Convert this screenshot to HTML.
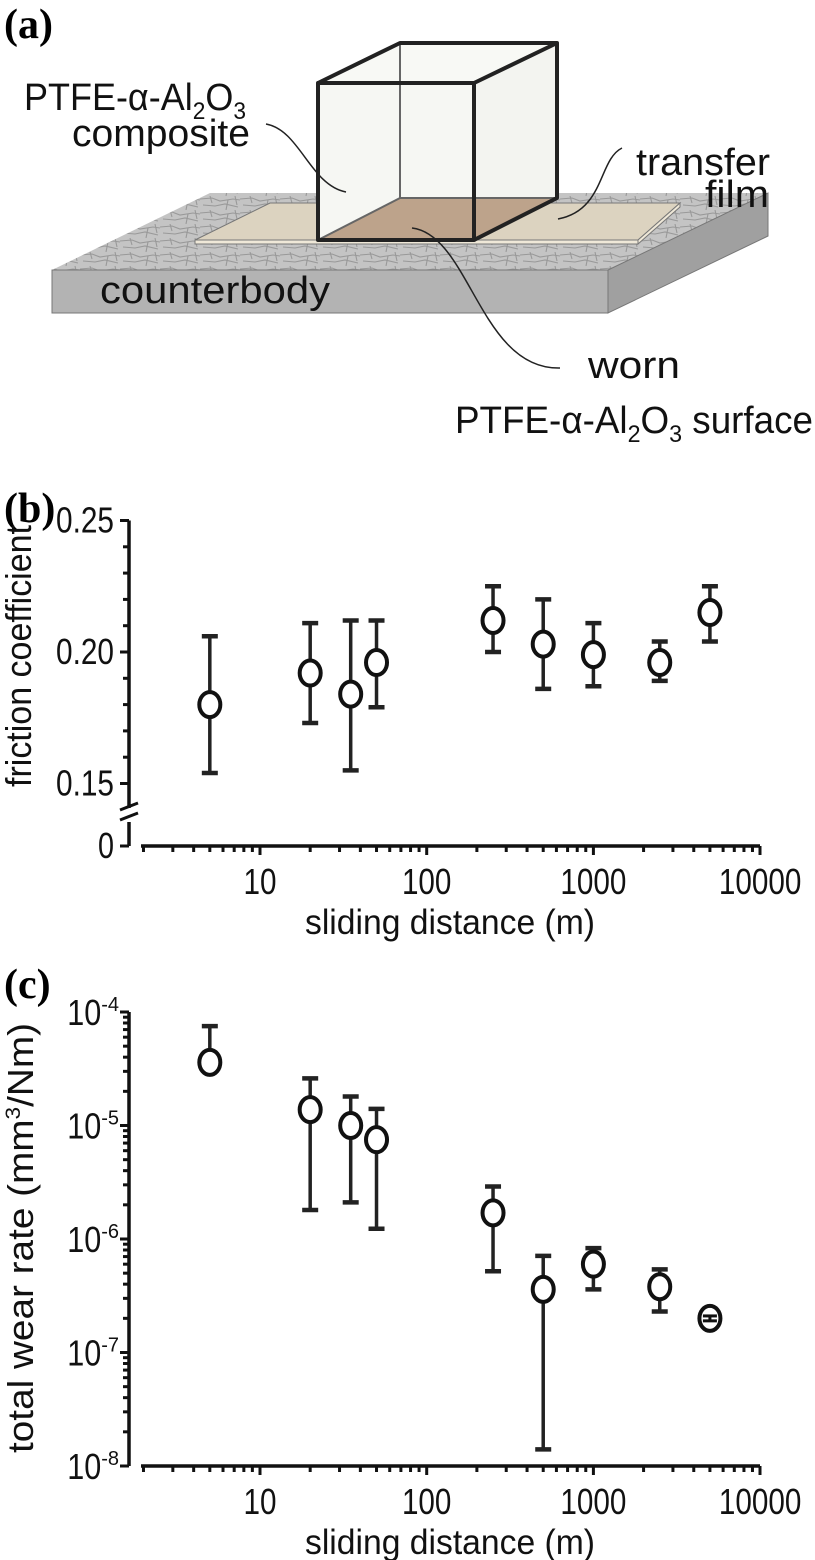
<!DOCTYPE html>
<html><head><meta charset="utf-8"><style>
html,body{margin:0;padding:0;background:#fff;}
svg{display:block;}
.lab{font-family:"Liberation Sans",sans-serif;fill:#111;}
.pl{font-family:"Liberation Serif",serif;font-weight:bold;font-size:42px;fill:#000;}
</style></head><body>
<svg id="fig" width="815" height="1560" viewBox="0 0 815 1560" xmlns="http://www.w3.org/2000/svg">
<defs>
<pattern id="crack" width="40" height="14" patternUnits="userSpaceOnUse">
<rect width="40" height="14" fill="#c4c4c4"/>
<path d="M0 3 L12 2 L20 5 L33 3 L40 4 M3 9 L15 10 L25 8 L38 11 M10 0 L12 7 M28 4 L26 14 M35 0 L37 9" stroke="#999" stroke-width="1.1" fill="none"/>
</pattern>
</defs>
<g id="panel-a">
<text class="pl" x="4" y="38">(a)</text>
<polygon points="210,193 768,193 608,270 52,270" fill="url(#crack)"/>
<polygon points="52,270 608,270 608,313 52,313" fill="#b3b3b3" stroke="#777" stroke-width="1"/>
<polygon points="608,270 768,193 768,236 608,313" fill="#a0a0a0" stroke="#777" stroke-width="1"/>
<polygon points="270,203 680,203 638,240 195,240" fill="#dcd3c0" stroke="#777" stroke-width="1"/>
<polygon points="195,240 638,240 638,244 195,244" fill="#efe8d8" stroke="#777" stroke-width="1"/>
<polygon points="638,240 680,203 680,207 638,244" fill="#efe8d8" stroke="#777" stroke-width="1"/>
<polygon points="318,83 474,83 474,240 318,240" fill="#f6f7f3"/>
<polygon points="474,83 557,43 557,198 474,240" fill="#f3f4f0"/>
<polygon points="318,83 400,43 557,43 474,83" fill="#f8f9f5"/>
<polygon points="400,198 557,198 474,240 318,240" fill="#bda38b"/>
<g stroke="#666" stroke-width="2" fill="none"><line x1="400" y1="43" x2="400" y2="198"/><line x1="400" y1="198" x2="557" y2="198"/><line x1="400" y1="198" x2="318" y2="240"/></g>
<g stroke="#222" stroke-width="4" fill="none" stroke-linejoin="round"><polygon points="318,83 474,83 474,240 318,240"/><polyline points="318,83 400,43 557,43 474,83"/><polyline points="557,43 557,198 474,240"/></g>
<g stroke="#222" stroke-width="1.5" fill="none">
<path d="M266,124 C300,130 310,185 346,192"/>
<path d="M622,148 C598,160 605,210 558,219"/>
<path d="M412,228 C470,235 480,370 560,368"/>
</g>
<g class="lab" font-size="38">
<text x="24" y="110" textLength="222" lengthAdjust="spacingAndGlyphs">PTFE-α-Al<tspan font-size="24" dy="9">2</tspan><tspan dy="-9">O</tspan><tspan font-size="24" dy="9">3</tspan></text>
<text x="72" y="146" textLength="178" lengthAdjust="spacingAndGlyphs">composite</text>
<text x="636" y="175" textLength="134" lengthAdjust="spacingAndGlyphs">transfer</text>
<text x="705" y="207" textLength="64" lengthAdjust="spacingAndGlyphs">film</text>
<text x="100" y="303" textLength="230" lengthAdjust="spacingAndGlyphs">counterbody</text>
<text x="588" y="378" textLength="92" lengthAdjust="spacingAndGlyphs">worn</text>
<text x="455" y="433" textLength="358" lengthAdjust="spacingAndGlyphs">PTFE-α-Al<tspan font-size="24" dy="9">2</tspan><tspan dy="-9">O</tspan><tspan font-size="24" dy="9">3</tspan><tspan dy="-9"> surface</tspan></text>
</g>
</g>
<g id="panel-b"></g>
<g id="panel-c"></g>
</svg>
<script>
// Panel b data
const distB = [5, 20, 35, 50, 250, 500, 1000, 2500, 5000];
const frictionMean = [0.180, 0.192, 0.184, 0.196, 0.212, 0.203, 0.199, 0.196, 0.215];
const frictionLow = [0.154, 0.173, 0.155, 0.179, 0.200, 0.186, 0.187, 0.189, 0.204];
const frictionHigh = [0.206, 0.211, 0.212, 0.212, 0.225, 0.220, 0.211, 0.204, 0.225];
const frictionTicks = ["0.25", "0.20", "0.15"];
const frictionTickVals = [0.25, 0.20, 0.15];
// Panel c data
const distC = [5, 20, 35, 50, 250, 500, 1000, 2500, 5000];
const wearMean = [3.6e-5, 1.38e-5, 1.0e-5, 7.5e-6, 1.7e-6, 3.6e-7, 6.0e-7, 3.8e-7, 2.0e-7];
const wearLow = [null, 1.8e-6, 2.1e-6, 1.23e-6, 5.2e-7, 1.4e-8, 3.6e-7, 2.3e-7, 1.9e-7];
const wearHigh = [7.5e-5, 2.6e-5, 1.8e-5, 1.4e-5, 2.9e-6, 7.1e-7, 8.3e-7, 5.4e-7, 2.1e-7];
const wearTickExp = [-4, -5, -6, -7, -8];
const xTickVals = [10, 100, 1000, 10000];
const xTickLabels = ["10", "100", "1000", "10000"];

const NS = "http://www.w3.org/2000/svg";
function mk(parent, tag, attrs, text) {
  const e = document.createElementNS(NS, tag);
  for (const k in attrs) e.setAttribute(k, attrs[k]);
  if (text !== undefined) e.textContent = text;
  parent.appendChild(e);
  return e;
}
const AX = 129, XL = 141, XR = 760;
function xScale(v) { return 260 + (Math.log10(v) - 1) * 166.7; }
const FONT = '"Liberation Sans", sans-serif';

function xAxis(g, y0) {
  const ax = mk(g, 'line', {x1: XL, y1: y0, x2: XR, y2: y0, stroke: '#111', 'stroke-width': 3.5});
  
  
  for (let d = 0; d <= 3; d++) {
    for (let m = 1; m <= 9; m++) {
      const v = m * Math.pow(10, d);
      if (v < 2) continue;
      const x = xScale(v);
      const big = (m === 1);
      const t = mk(g, 'line', {x1: x, y1: y0, x2: x, y2: y0 + (big ? 9 : 6), stroke: '#111', 'stroke-width': 3});
      
      
    }
  }
  const tEnd = mk(g, 'line', {x1: XR, y1: y0, x2: XR, y2: y0 + 9, stroke: '#111', 'stroke-width': 3});
  
  
  xTickVals.forEach((v, i) => {
    const t = mk(g, 'text', {x: xScale(v), y: y0 + 48, 'text-anchor': 'middle', 'font-family': FONT, 'font-size': 36, fill: '#111', textLength: xTickLabels[i].length * 16.5, lengthAdjust: 'spacingAndGlyphs'}, xTickLabels[i]);
    
    
  });
  const tt = mk(g, 'text', {x: 450, y: y0 + 88, 'text-anchor': 'middle', 'font-family': FONT, 'font-size': 35, fill: '#111', textLength: 290, lengthAdjust: 'spacingAndGlyphs'}, 'sliding distance (m)');
  
  
}

function drawPoint(g, x, y, yl, yh) {
  const cw = 8;
  if (yh !== null) {
    const l = mk(g, 'line', {x1: x, y1: y, x2: x, y2: yh, stroke: '#222', 'stroke-width': 3.5});
    
    
    const c = mk(g, 'line', {x1: x - cw, y1: yh, x2: x + cw, y2: yh, stroke: '#222', 'stroke-width': 4.5});
    
    
  }
  if (yl !== null) {
    const l = mk(g, 'line', {x1: x, y1: y, x2: x, y2: yl, stroke: '#222', 'stroke-width': 3.5});
    
    
    const c = mk(g, 'line', {x1: x - cw, y1: yl, x2: x + cw, y2: yl, stroke: '#222', 'stroke-width': 4.5});
    
    
  }
  const p = mk(g, 'ellipse', {cx: x, cy: y, rx: 10.5, ry: 12.5, fill: '#fff', stroke: '#111', 'stroke-width': 4});
  
  
  if (yl !== null && yh !== null && Math.abs(yl - yh) < 16) {
    mk(g, 'line', {x1: x - 7, y1: yh, x2: x + 7, y2: yh, stroke: '#111', 'stroke-width': 3});
    mk(g, 'line', {x1: x - 7, y1: yl, x2: x + 7, y2: yl, stroke: '#111', 'stroke-width': 3});
    mk(g, 'line', {x1: x, y1: yh, x2: x, y2: yl, stroke: '#111', 'stroke-width': 3});
  }
}

// ---------- Panel b ----------
(function () {
  const g = document.getElementById('panel-b');
  const Y0 = 846;
  function yB(v) { return 652 - (v - 0.20) / 0.05 * 131.5; }
  const lbl = mk(g, 'text', {x: 4, y: 522, 'class': 'pl'}, '(b)');
  
  
  const ya = mk(g, 'line', {x1: AX, y1: yB(0.25), x2: AX, y2: 808, stroke: '#111', 'stroke-width': 3.5});
  
  
  const yb = mk(g, 'line', {x1: AX, y1: 822, x2: AX, y2: Y0, stroke: '#111', 'stroke-width': 3.5});
  
  
  const br = mk(g, 'path', {d: 'M' + (AX - 9) + ',810 L' + (AX + 9) + ',803 M' + (AX - 9) + ',820 L' + (AX + 9) + ',813', stroke: '#111', 'stroke-width': 3, fill: 'none'});
  
  
  for (let i = 0; i <= 10; i++) {
    const v = 0.15 + i * 0.01;
    const major = (i % 5 === 0);
    const t = mk(g, 'line', {x1: AX - (major ? 9 : 6), y1: yB(v), x2: AX, y2: yB(v), stroke: '#111', 'stroke-width': 3});
    
    
  }
  const t0 = mk(g, 'line', {x1: AX - 9, y1: Y0, x2: AX, y2: Y0, stroke: '#111', 'stroke-width': 3});
  
  
  frictionTickVals.forEach((v, i) => {
    const t = mk(g, 'text', {x: 114, y: yB(v) + 12, 'text-anchor': 'end', 'font-family': FONT, 'font-size': 36, fill: '#111', textLength: 58, lengthAdjust: 'spacingAndGlyphs'}, frictionTicks[i]);
    
    
  });
  const z = mk(g, 'text', {x: 114, y: Y0 + 12, 'text-anchor': 'end', 'font-family': FONT, 'font-size': 36, fill: '#111', textLength: 16, lengthAdjust: 'spacingAndGlyphs'}, '0');
  
  
  const yt = mk(g, 'text', {x: 0, y: 0, transform: 'translate(31,656) rotate(-90)', 'text-anchor': 'middle', 'font-family': FONT, 'font-size': 36, fill: '#111', textLength: 262, lengthAdjust: 'spacingAndGlyphs'}, 'friction coefficient');
  
  
  xAxis(g, Y0);
  distB.forEach((d, i) => drawPoint(g, xScale(d), yB(frictionMean[i]), yB(frictionLow[i]), yB(frictionHigh[i])));
})();

// ---------- Panel c ----------
(function () {
  const g = document.getElementById('panel-c');
  const Y0 = 1466;
  function yC(v) { return 1012 + (-4 - Math.log10(v)) * 113.5; }
  const lbl = mk(g, 'text', {x: 4, y: 998, 'class': 'pl'}, '(c)');
  
  
  const ya = mk(g, 'line', {x1: AX, y1: yC(1e-4), x2: AX, y2: Y0, stroke: '#111', 'stroke-width': 3.5});
  
  
  for (let e = -8; e < -4; e++) {
    for (let m = 1; m <= 10; m++) {
      const v = m * Math.pow(10, e);
      const major = (m === 1 || m === 10);
      const t = mk(g, 'line', {x1: AX - (major ? 9 : 6), y1: yC(v), x2: AX, y2: yC(v), stroke: '#111', 'stroke-width': 3});
      
      
    }
  }
  wearTickExp.forEach(e => {
    const t = mk(g, 'text', {x: 119, y: yC(Math.pow(10, e)) + 13, 'text-anchor': 'end', 'font-family': FONT, 'font-size': 36, fill: '#111'});
    
    
    mk(t, 'tspan', {textLength: 34, lengthAdjust: 'spacingAndGlyphs'}, '10');
    mk(t, 'tspan', {'font-size': 20, dy: -14}, String(e));
  });
  const yt = mk(g, 'text', {x: 0, y: 0, transform: 'translate(33,1238) rotate(-90)', 'text-anchor': 'middle', 'font-family': FONT, 'font-size': 36, fill: '#111', textLength: 430, lengthAdjust: 'spacingAndGlyphs'});
  
  
  mk(yt, 'tspan', {}, 'total wear rate (mm');
  mk(yt, 'tspan', {'font-size': 21, dy: -13}, '3');
  mk(yt, 'tspan', {dy: 13}, '/Nm)');
  xAxis(g, Y0);
  distC.forEach((d, i) => drawPoint(g, xScale(d), yC(wearMean[i]), wearLow[i] === null ? null : yC(wearLow[i]), wearHigh[i] === null ? null : yC(wearHigh[i])));
})();
</script>
</body></html>
